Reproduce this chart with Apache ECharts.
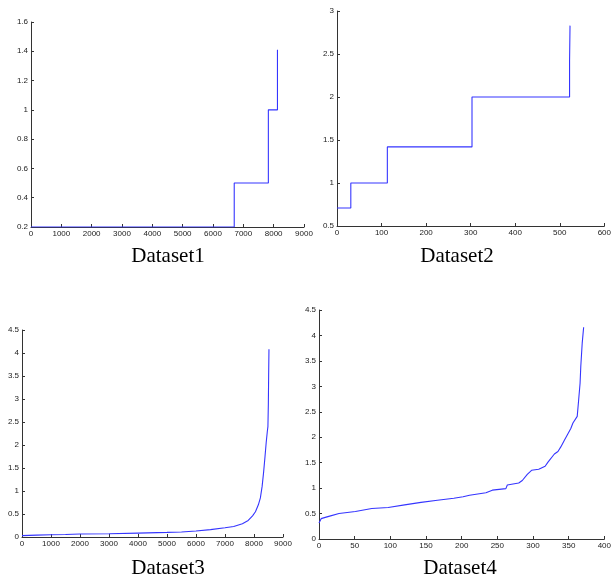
<!DOCTYPE html>
<html><head><meta charset="utf-8">
<script src="https://cdn.jsdelivr.net/npm/echarts@6/dist/echarts.min.js"></script>
<style>html,body{margin:0;padding:0;background:#fff}#c{width:614px;height:580px}</style>
</head><body><div id="c"></div>
<script>
const titles = ['Dataset1','Dataset2','Dataset3','Dataset4'];
const d1x = [0, 6700, 7825, 8125, 8126];
const d1y = [0.2, 0.5, 1.0, 1.41, 1.41];
const d2x = [0, 31, 113, 303, 522, 523, 523];
const d2y = [0.71, 1.0, 1.42, 2.0, 2.42, 2.83, 2.83];
const d3x = [0,500,1000,1500,2000,3000,4000,5000,5500,6000,6500,7000,7300,7600,7800,7950,8050,8150,8220,8280,8330,8380,8420,8460,8480,8495,8505,8516];
const d3y = [0.03,0.04,0.05,0.055,0.065,0.07,0.085,0.1,0.11,0.13,0.16,0.2,0.23,0.29,0.36,0.46,0.55,0.7,0.85,1.1,1.4,1.75,2.05,2.3,2.4,2.9,3.5,4.08];
const d4x = [0,3,10,15,17,28,51,74,97,120,143,166,189,202,211,234,243,262,264,280,285,292,298,308,317,321,330,335,339,344,349,353,356,362,364,366,367,369,371];
const d4y = [0.315,0.40,0.43,0.45,0.47,0.50,0.54,0.60,0.62,0.67,0.72,0.76,0.80,0.83,0.86,0.91,0.96,0.99,1.06,1.10,1.15,1.27,1.35,1.37,1.43,1.51,1.67,1.72,1.81,1.94,2.07,2.17,2.28,2.41,2.73,3.06,3.39,3.85,4.16];
const xRanges = [[0,9000,1000],[0,600,100],[0,9000,1000],[0,400,50]];
const yRanges = [[0.2,1.6,0.2],[0.5,3,0.5],[0,4.5,0.5],[0,4.5,0.5]];

const grids = [
  {left:31, top:22, width:273, height:205},
  {left:337, top:11, width:270, height:215},
  {left:22, top:330, width:261, height:207},
  {left:319, top:310, width:292, height:229}
];
const titlePos = [[168,256],[457,256],[168,568],[460,568]];
const axisCol = '#333';
const lab = {fontSize:8, color:'#222', fontFamily:'Liberation Sans, Arial', margin:3};
function ax(r, i){
  return {type:'value', gridIndex:i, min:r[0], max:r[1], interval:r[2],
    axisLine:{show:true, onZero:false, lineStyle:{color:axisCol, width:1}},
    axisTick:{show:true, inside:true, length:3, lineStyle:{color:axisCol}},
    splitLine:{show:false},
    axisLabel:Object.assign({}, lab, {showMinLabel:true, showMaxLabel:true, hideOverlap:false,
      formatter: v => String(Math.round(v*10)/10)})};
}
const pairs = (xs, ys) => xs.map((x,i)=>[x, ys[i]]);
const datas = [pairs(d1x,d1y), pairs(d2x,d2y), pairs(d3x,d3y), pairs(d4x,d4y)];
const chart = echarts.init(document.getElementById('c'), null, {renderer:'canvas'});
chart.setOption({
  animation:false,
  backgroundColor:'#fff',
  grid: grids,
  xAxis: xRanges.map((r,i)=>ax(r,i)),
  yAxis: yRanges.map((r,i)=>ax(r,i)),
  series: datas.map((d,i)=>({type:'line', xAxisIndex:i, yAxisIndex:i, data:d,
    step: i<2 ? 'end' : false, showSymbol:false, smooth:false,
    lineStyle:{color:'#3535ff', width:1.1}})),
  graphic: titles.map((t,i)=>({type:'text', x:titlePos[i][0], y:titlePos[i][1],
    style:{text:t, fill:'#000', font:'21px "Liberation Serif", "Times New Roman", serif', textAlign:'center', textVerticalAlign:'middle'}}))
});
</script></body></html>
